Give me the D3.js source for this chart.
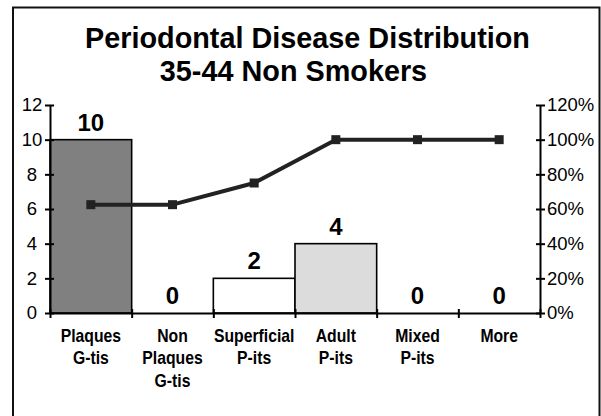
<!DOCTYPE html>
<html>
<head>
<meta charset="utf-8">
<script src="https://cdn.jsdelivr.net/npm/d3@7/dist/d3.min.js"></script>
<style>
  html, body { margin: 0; padding: 0; background: #fff; }
  svg { display: block; font-family: "Liberation Sans", Arial, sans-serif; }
</style>
</head>
<body>
<svg id="chart" width="601" height="416"></svg>
<script>
// ---- data ----
const categories = ["Plaques G-tis", "Non Plaques G-tis", "Superficial P-its", "Adult P-its", "Mixed P-its", "More"];
const categoryLines = [["Plaques", "G-tis"], ["Non", "Plaques", "G-tis"], ["Superficial", "P-its"], ["Adult", "P-its"], ["Mixed", "P-its"], ["More"]];
const frequency = [10, 0, 2, 4, 0, 0];
const cumulative = [0.625, 0.625, 0.75, 1.0, 1.0, 1.0];
const leftTicks = [0, 2, 4, 6, 8, 10, 12];
const rightTicks = [0, 0.2, 0.4, 0.6, 0.8, 1.0, 1.2];
const titleLines = ["Periodontal Disease Distribution", "35-44 Non Smokers"];
const barColors = ["#808080", "#ffffff", "#ffffff", "#dcdcdc", "#ffffff", "#ffffff"];

// ---- layout ----
const svg = d3.select("#chart");
const plot = { left: 50, right: 540, top: 105, bottom: 313 };

svg.append("rect")
  .attr("x", 13).attr("y", 7.5).attr("width", 586.5).attr("height", 430)
  .attr("fill", "#fff").attr("stroke", "#111").attr("stroke-width", 2);

// title
const titleCenters = [307.5, 293.5];
const titleBaselines = [47.5, 80.5];
svg.selectAll("text.title").data(titleLines).join("text")
  .attr("class", "title")
  .attr("x", (d, i) => titleCenters[i])
  .attr("y", (d, i) => titleBaselines[i])
  .attr("text-anchor", "middle")
  .attr("font-size", 28.8).attr("font-weight", "bold").attr("fill", "#000")
  .text(d => d);

const x = d3.scaleBand().domain(categories).range([plot.left, plot.right]).padding(0);
const xb = d3.scaleLinear().domain([0, categories.length]).range([plot.left, plot.right]);
const yL = d3.scaleLinear().domain([0, 12]).range([plot.bottom, plot.top]);
const yR = d3.scaleLinear().domain([0, 1.2]).range([plot.bottom, plot.top]);

// bars
svg.selectAll("rect.bar").data(frequency).join("rect")
  .attr("class", "bar")
  .attr("x", (d, i) => x(categories[i]))
  .attr("width", x.bandwidth())
  .attr("y", d => yL(d))
  .attr("height", d => yL(0) - yL(d))
  .attr("fill", (d, i) => barColors[i])
  .attr("stroke", "#000").attr("stroke-width", 1.6)
  .style("display", d => d > 0 ? null : "none");

// data labels
svg.selectAll("text.dlabel").data(frequency).join("text")
  .attr("class", "dlabel")
  .attr("x", (d, i) => x(categories[i]) + x.bandwidth() / 2)
  .attr("y", d => yL(d) - 9)
  .attr("text-anchor", "middle")
  .attr("font-size", 24).attr("font-weight", "bold").attr("fill", "#000")
  .text(d => d);

// left axis
const gL = svg.append("g").attr("transform", `translate(${plot.left},0)`)
  .call(d3.axisLeft(yL).tickValues(leftTicks).tickSizeOuter(0).tickFormat(d => d));
gL.select(".domain").attr("stroke", "#000").attr("stroke-width", 2);
gL.selectAll(".tick line").attr("x1", -5).attr("x2", 4).attr("stroke", "#000").attr("stroke-width", 2);
gL.selectAll(".tick text").attr("x", -18).attr("text-anchor", "middle")
  .attr("font-size", 18.5).attr("fill", "#000").attr("font-family", "Liberation Sans, Arial, sans-serif");

// right axis
const gR = svg.append("g").attr("transform", `translate(${plot.right},0)`)
  .call(d3.axisRight(yR).tickValues(rightTicks).tickSizeOuter(0).tickFormat(d3.format(".0%")));
gR.select(".domain").attr("stroke", "#000").attr("stroke-width", 2);
gR.selectAll(".tick line").attr("x1", -4).attr("x2", 5).attr("stroke", "#000").attr("stroke-width", 2);
gR.selectAll(".tick text").attr("x", 7).attr("text-anchor", "start")
  .attr("font-size", 18.5).attr("fill", "#000").attr("font-family", "Liberation Sans, Arial, sans-serif");

// bottom axis (ticks at category boundaries)
const gB = svg.append("g").attr("transform", `translate(0,${plot.bottom})`)
  .call(d3.axisBottom(xb).tickValues(d3.range(0, categories.length + 1)).tickSizeOuter(0).tickFormat(""));
gB.select(".domain").attr("stroke", "#000").attr("stroke-width", 2);
gB.selectAll(".tick line").attr("y1", -4).attr("y2", 5).attr("stroke", "#000").attr("stroke-width", 2);

// category labels (slightly condensed, as in the reference)
const catG = svg.selectAll("text.cat").data(categoryLines).join("text")
  .attr("class", "cat")
  .attr("text-anchor", "middle")
  .attr("font-size", 17.5).attr("font-weight", "bold").attr("fill", "#000")
  .attr("transform", (d, i) => `translate(${x(categories[i]) + x.bandwidth() / 2},342) scale(0.9,1)`);
catG.each(function (lines) {
  d3.select(this).selectAll("tspan").data(lines).join("tspan")
    .attr("x", 0)
    .attr("y", (d, j) => j * 22.3)
    .text(d => d);
});

// cumulative line
const line = d3.line()
  .x((d, i) => x(categories[i]) + x.bandwidth() / 2)
  .y(d => yR(d));
svg.append("path").datum(cumulative)
  .attr("d", line)
  .attr("fill", "none").attr("stroke", "#222").attr("stroke-width", 4)
  .attr("stroke-linejoin", "round");
svg.selectAll("rect.marker").data(cumulative).join("rect")
  .attr("class", "marker")
  .attr("x", (d, i) => x(categories[i]) + x.bandwidth() / 2 - 4.5)
  .attr("y", d => yR(d) - 4.5)
  .attr("width", 9).attr("height", 9)
  .attr("fill", "#222");
</script>
</body>
</html>
